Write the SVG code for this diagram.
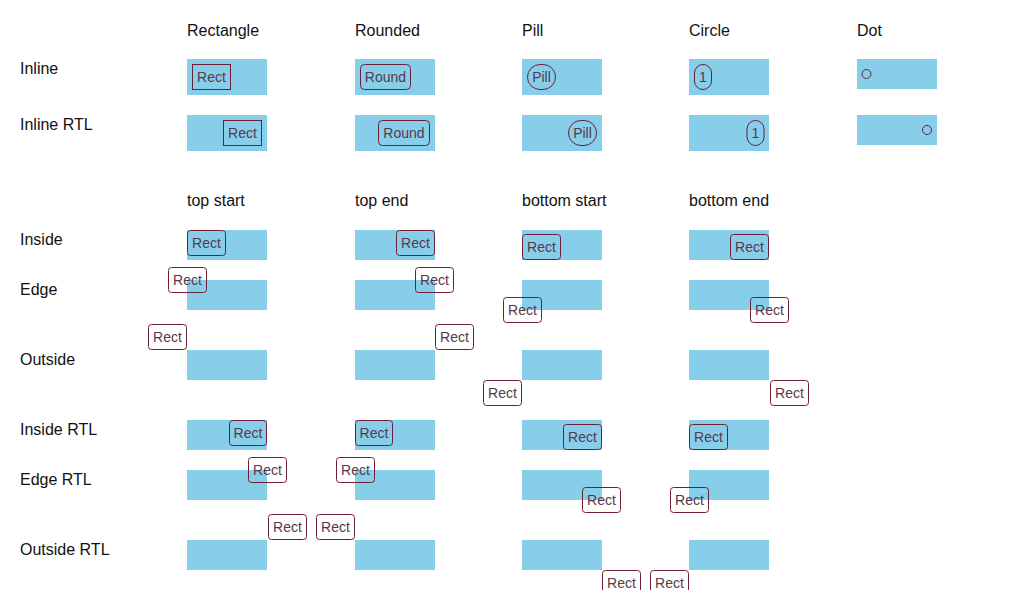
<svg xmlns="http://www.w3.org/2000/svg" width="1024" height="590" viewBox="0 0 1024 590">
<style>
  text { font-family: "Liberation Sans", Arial, sans-serif; }
  .hdr { font-size: 16px; fill: #111; }
  .bg { fill: #87CEEB; }
  .lb { fill: none; stroke: #6e1f33; stroke-width: 1; }
  .lt { font-size: 14px; fill: #58384a; text-anchor: middle; }
</style>
<rect width="1024" height="590" fill="#fff"/>
<g id="headers">
  <text class="hdr" x="187" y="36">Rectangle</text>
  <text class="hdr" x="355" y="36">Rounded</text>
  <text class="hdr" x="522" y="36">Pill</text>
  <text class="hdr" x="689" y="36">Circle</text>
  <text class="hdr" x="857" y="36">Dot</text>
  <text class="hdr" x="187" y="206">top start</text>
  <text class="hdr" x="355" y="206">top end</text>
  <text class="hdr" x="522" y="206">bottom start</text>
  <text class="hdr" x="689" y="206">bottom end</text>
</g>
<g id="row-labels">
  <text class="hdr" x="20" y="74">Inline</text>
  <text class="hdr" x="20" y="130">Inline RTL</text>
  <text class="hdr" x="20" y="245">Inside</text>
  <text class="hdr" x="20" y="295">Edge</text>
  <text class="hdr" x="20" y="365">Outside</text>
  <text class="hdr" x="20" y="435">Inside RTL</text>
  <text class="hdr" x="20" y="485">Edge RTL</text>
  <text class="hdr" x="20" y="555">Outside RTL</text>
</g>
<g id="inline">
  <rect class="bg" x="187" y="59" width="80" height="36"/>
  <rect class="bg" x="355" y="59" width="80" height="36"/>
  <rect class="bg" x="522" y="59" width="80" height="36"/>
  <rect class="bg" x="689" y="59" width="80" height="36"/>
  <rect class="bg" x="857" y="59" width="80" height="30"/>
  <g id="inline-rect"><rect class="lb" x="192.5" y="64.5" width="38" height="25"/><text class="lt" x="211.5" y="82">Rect</text></g>
  <g id="inline-round"><rect class="lb" x="360.5" y="64.5" width="50" height="25" rx="4"/><text class="lt" x="385.5" y="82">Round</text></g>
  <g id="inline-pill"><rect class="lb" x="527.5" y="64.5" width="28" height="25" rx="12.5"/><text class="lt" x="541.5" y="82">Pill</text></g>
  <g id="inline-circle"><rect class="lb" x="694.5" y="64.5" width="17" height="25" rx="8.5"/><text class="lt" x="703" y="82">1</text></g>
  <g id="inline-dot"><circle class="lb" cx="866.5" cy="74" r="4.5"/></g>
</g>
<g id="inline-rtl">
  <rect class="bg" x="187" y="115" width="80" height="36"/>
  <rect class="bg" x="355" y="115" width="80" height="36"/>
  <rect class="bg" x="522" y="115" width="80" height="36"/>
  <rect class="bg" x="689" y="115" width="80" height="36"/>
  <rect class="bg" x="857" y="115" width="80" height="30"/>
  <g id="rtl-rect"><rect class="lb" x="223.5" y="120.5" width="38" height="25"/><text class="lt" x="242.5" y="138">Rect</text></g>
  <g id="rtl-round"><rect class="lb" x="378.5" y="120.5" width="51" height="25" rx="4"/><text class="lt" x="404" y="138">Round</text></g>
  <g id="rtl-pill"><rect class="lb" x="568.5" y="120.5" width="28" height="25" rx="12.5"/><text class="lt" x="582.5" y="138">Pill</text></g>
  <g id="rtl-circle"><rect class="lb" x="747" y="120.5" width="17" height="25" rx="8.5"/><text class="lt" x="755.5" y="138">1</text></g>
  <g id="rtl-dot"><circle class="lb" cx="927" cy="130" r="4.5"/></g>
</g>
<g id="backgrounds">
  <rect class="bg" x="187" y="230" width="80" height="30"/>
  <rect class="bg" x="355" y="230" width="80" height="30"/>
  <rect class="bg" x="522" y="230" width="80" height="30"/>
  <rect class="bg" x="689" y="230" width="80" height="30"/>
  <rect class="bg" x="187" y="280" width="80" height="30"/>
  <rect class="bg" x="355" y="280" width="80" height="30"/>
  <rect class="bg" x="522" y="280" width="80" height="30"/>
  <rect class="bg" x="689" y="280" width="80" height="30"/>
  <rect class="bg" x="187" y="350" width="80" height="30"/>
  <rect class="bg" x="355" y="350" width="80" height="30"/>
  <rect class="bg" x="522" y="350" width="80" height="30"/>
  <rect class="bg" x="689" y="350" width="80" height="30"/>
  <rect class="bg" x="187" y="420" width="80" height="30"/>
  <rect class="bg" x="355" y="420" width="80" height="30"/>
  <rect class="bg" x="522" y="420" width="80" height="30"/>
  <rect class="bg" x="689" y="420" width="80" height="30"/>
  <rect class="bg" x="187" y="470" width="80" height="30"/>
  <rect class="bg" x="355" y="470" width="80" height="30"/>
  <rect class="bg" x="522" y="470" width="80" height="30"/>
  <rect class="bg" x="689" y="470" width="80" height="30"/>
  <rect class="bg" x="187" y="540" width="80" height="30"/>
  <rect class="bg" x="355" y="540" width="80" height="30"/>
  <rect class="bg" x="522" y="540" width="80" height="30"/>
  <rect class="bg" x="689" y="540" width="80" height="30"/>
</g>
<g id="labels">
  <g id="inside-ts"><rect class="lb" x="187.5" y="230.5" width="38" height="25" rx="3"/><text class="lt" x="206.5" y="248">Rect</text></g>
  <g id="inside-te"><rect class="lb" x="396.5" y="230.5" width="38" height="25" rx="3"/><text class="lt" x="415.5" y="248">Rect</text></g>
  <g id="inside-bs"><rect class="lb" x="522.5" y="234.5" width="38" height="25" rx="3"/><text class="lt" x="541.5" y="252">Rect</text></g>
  <g id="inside-be"><rect class="lb" x="730.5" y="234.5" width="38" height="25" rx="3"/><text class="lt" x="749.5" y="252">Rect</text></g>

  <g id="edge-ts"><rect class="lb" x="168.5" y="267.5" width="38" height="25" rx="3"/><text class="lt" x="187.5" y="285">Rect</text></g>
  <g id="edge-te"><rect class="lb" x="415.5" y="267.5" width="38" height="25" rx="3"/><text class="lt" x="434.5" y="285">Rect</text></g>
  <g id="edge-bs"><rect class="lb" x="503.5" y="297.5" width="38" height="25" rx="3"/><text class="lt" x="522.5" y="315">Rect</text></g>
  <g id="edge-be"><rect class="lb" x="750.5" y="297.5" width="38" height="25" rx="3"/><text class="lt" x="769.5" y="315">Rect</text></g>

  <g id="outside-ts"><rect class="lb" x="148.5" y="324.5" width="38" height="25" rx="3"/><text class="lt" x="167.5" y="342">Rect</text></g>
  <g id="outside-te"><rect class="lb" x="435.5" y="324.5" width="38" height="25" rx="3"/><text class="lt" x="454.5" y="342">Rect</text></g>
  <g id="outside-bs"><rect class="lb" x="483.5" y="380.5" width="38" height="25" rx="3"/><text class="lt" x="502.5" y="398">Rect</text></g>
  <g id="outside-be"><rect class="lb" x="770.5" y="380.5" width="38" height="25" rx="3"/><text class="lt" x="789.5" y="398">Rect</text></g>

  <g id="insidertl-ts"><rect class="lb" x="229.5" y="420.5" width="37" height="25" rx="3"/><text class="lt" x="248" y="438">Rect</text></g>
  <g id="insidertl-te"><rect class="lb" x="355.5" y="420.5" width="37" height="25" rx="3"/><text class="lt" x="374" y="438">Rect</text></g>
  <g id="insidertl-bs"><rect class="lb" x="563.5" y="424.5" width="38" height="25" rx="3"/><text class="lt" x="582.5" y="442">Rect</text></g>
  <g id="insidertl-be"><rect class="lb" x="689.5" y="424.5" width="38" height="25" rx="3"/><text class="lt" x="708.5" y="442">Rect</text></g>

  <g id="edgertl-ts"><rect class="lb" x="248.5" y="457.5" width="38" height="25" rx="3"/><text class="lt" x="267.5" y="475">Rect</text></g>
  <g id="edgertl-te"><rect class="lb" x="336.5" y="457.5" width="38" height="25" rx="3"/><text class="lt" x="355.5" y="475">Rect</text></g>
  <g id="edgertl-bs"><rect class="lb" x="582.5" y="487.5" width="38" height="25" rx="3"/><text class="lt" x="601.5" y="505">Rect</text></g>
  <g id="edgertl-be"><rect class="lb" x="670.5" y="487.5" width="38" height="25" rx="3"/><text class="lt" x="689.5" y="505">Rect</text></g>

  <g id="outsidertl-ts"><rect class="lb" x="268.5" y="514.5" width="38" height="25" rx="3"/><text class="lt" x="287.5" y="532">Rect</text></g>
  <g id="outsidertl-te"><rect class="lb" x="316.5" y="514.5" width="38" height="25" rx="3"/><text class="lt" x="335.5" y="532">Rect</text></g>
  <g id="outsidertl-bs"><rect class="lb" x="602.5" y="570.5" width="38" height="25" rx="3"/><text class="lt" x="621.5" y="588">Rect</text></g>
  <g id="outsidertl-be"><rect class="lb" x="650.5" y="570.5" width="38" height="25" rx="3"/><text class="lt" x="669.5" y="588">Rect</text></g>
</g>
<g id="connectors"/>
</svg>
